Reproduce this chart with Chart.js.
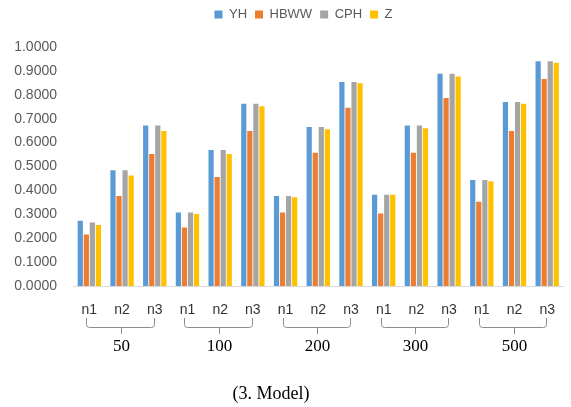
<!DOCTYPE html>
<html>
<head>
<meta charset="utf-8">
<script src="https://cdn.jsdelivr.net/npm/chart.js@4.4.0/dist/chart.umd.min.js"></script>
<style>
  html, body { margin: 0; padding: 0; background: #fff; }
  #wrap { width: 571px; height: 407px; position: relative; }
</style>
</head>
<body>
<div id="wrap"><canvas id="chart" width="571" height="407"></canvas></div>
<script>
// sample sizes and the three sub cases under each
var groups = ['50', '100', '200', '300', '500'];
var cases = ['n1', 'n2', 'n3'];

var yh   = [0.273, 0.484, 0.672, 0.308, 0.569, 0.763, 0.377, 0.665, 0.854, 0.382, 0.672, 0.888, 0.443, 0.770, 0.940];
var hbww = [0.216, 0.377, 0.552, 0.245, 0.456, 0.649, 0.308, 0.558, 0.746, 0.303, 0.558, 0.787, 0.353, 0.649, 0.866];
var cph  = [0.266, 0.484, 0.672, 0.308, 0.569, 0.763, 0.377, 0.665, 0.854, 0.382, 0.672, 0.888, 0.443, 0.770, 0.940];
var z    = [0.255, 0.462, 0.649, 0.301, 0.552, 0.752, 0.371, 0.656, 0.848, 0.382, 0.660, 0.877, 0.438, 0.763, 0.934];

var caption = '(3. Model)';

var labels = [];
groups.forEach(function (g) {
    cases.forEach(function (c) { labels.push(c); });
});

// brackets + group names under the n1..n3 labels
var groupAxis = {
    id: 'groupAxis',
    afterLayout: function (chart) {
        // legend sits at the very top, a bit right of centre in the original
        var lg = chart.legend;
        lg.left += 36;
        lg.bottom -= lg.top;
        lg.top = 0;
    },
    afterDraw: function (chart) {
        var ctx = chart.ctx;
        var x = chart.scales.x;
        ctx.save();
        ctx.strokeStyle = '#8c8c8c';
        ctx.lineWidth = 1;
        groups.forEach(function (g, i) {
            var x1 = Math.round(x.getPixelForValue(i * 3)) - 2.5;
            var x2 = Math.round(x.getPixelForValue(i * 3 + 2)) - 0.5;
            var xm = Math.round(x.getPixelForValue(i * 3 + 1)) - 0.5;
            var top = 318, bot = 327.5, r = 3;
            ctx.beginPath();
            ctx.moveTo(x1, top);
            ctx.lineTo(x1, bot - r);
            ctx.quadraticCurveTo(x1, bot, x1 + r, bot);
            ctx.lineTo(x2 - r, bot);
            ctx.quadraticCurveTo(x2, bot, x2, bot - r);
            ctx.lineTo(x2, top);
            ctx.moveTo(xm, bot);
            ctx.lineTo(xm, 334);
            ctx.stroke();

            ctx.fillStyle = '#000';
            ctx.font = '17px "Liberation Serif", "Times New Roman", serif';
            ctx.textAlign = 'center';
            ctx.textBaseline = 'middle';
            ctx.fillText(g, xm, 347);
        });
        ctx.font = '18px "Liberation Serif", "Times New Roman", serif';
        ctx.fillText(caption, 271, 394);
        ctx.restore();
    }
};

var ctx = document.getElementById('chart').getContext('2d');
var chart = new Chart(ctx, {
    type: 'bar',
    data: {
        labels: labels,
        datasets: [
            { label: 'YH',   data: yh,   backgroundColor: '#5B9BD5' },
            { label: 'HBWW', data: hbww, backgroundColor: '#ED7D31' },
            { label: 'CPH',  data: cph,  backgroundColor: '#A5A5A5' },
            { label: 'Z',    data: z,    backgroundColor: '#FFC000' }
        ]
    },
    options: {
        responsive: false,
        animation: false,
        layout: { padding: { left: 0, right: 0, top: 0, bottom: 0 } },
        datasets: {
            bar: { categoryPercentage: 0.74, barPercentage: 0.86 }
        },
        plugins: {
            legend: {
                position: 'top',
                labels: {
                    boxWidth: 8,
                    boxHeight: 8,
                    padding: 8,
                    color: '#595959',
                    font: { family: '"Liberation Sans", Arial, sans-serif', size: 13 }
                }
            },
            tooltip: { enabled: false }
        },
        scales: {
            x: {
                grid: { display: false, drawTicks: false },
                border: { display: true, color: '#d9d9d9', width: 1 },
                ticks: {
                    color: '#333',
                    padding: 16,
                    maxRotation: 0,
                    autoSkip: false,
                    font: { family: '"Liberation Sans", Arial, sans-serif', size: 14 }
                },
                afterFit: function (s) { s.height = 121; }
            },
            y: {
                min: 0,
                max: 1,
                grid: { display: false, drawTicks: false },
                border: { display: false },
                ticks: {
                    stepSize: 0.1,
                    padding: 16,
                    color: '#595959',
                    font: { family: '"Liberation Sans", Arial, sans-serif', size: 14 },
                    callback: function (v) { return v.toFixed(4); }
                },
                afterFit: function (s) { s.width = 73; s.paddingTop = 47; }
            }
        }
    },
    plugins: [groupAxis]
});
</script>
</body>
</html>
